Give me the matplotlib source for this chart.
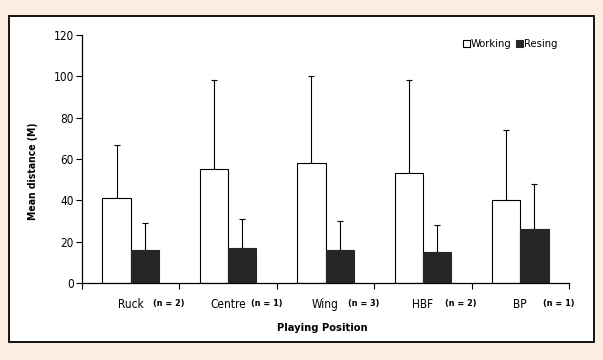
import matplotlib.pyplot as plt
from matplotlib.patches import Rectangle
from matplotlib.transforms import blended_transform_factory

positions = ['Ruck', 'Centre', 'Wing', 'HBF', 'BP']
n_players = ['(n = 2)', '(n = 1)', '(n = 3)', '(n = 2)', '(n = 1)']
working = [41, 55, 58, 53, 40]
working_sd = [26, 43, 42, 45, 34]
resting = [16, 17, 16, 15, 26]
resting_sd = [13, 14, 14, 13, 22]
yticks = [0, 20, 40, 60, 80, 100, 120]

plt.rcParams['font.family'] = ['DejaVu Sans']
plt.rcParams['font.stretch'] = 'condensed'

W, H = 603, 360
fig = plt.figure(figsize=(W / 100, H / 100), dpi=100)
fig.patch.set_facecolor('#fdeee4')

# white panel with black frame, behind the axes
fig.patches.append(Rectangle((9 / W, 1 - 342 / H), 585 / W, 326 / H,
                             transform=fig.transFigure, facecolor='white',
                             edgecolor='black', linewidth=1.3, zorder=-5))

ax = fig.add_axes([82 / W, 1 - 283 / H, (569 - 82) / W, (283 - 35) / H])
ax.set_facecolor('none')

bw = 0.29
x = [i + 0.5 for i in range(len(positions))]
xw = [c - bw / 2 for c in x]
xr = [c + bw / 2 for c in x]

ax.bar(xw, working, bw, color='white', edgecolor='black', linewidth=0.8, label='Working', zorder=2)
ax.bar(xr, resting, bw, color='#262626', edgecolor='#262626', linewidth=0.8, label='Resing', zorder=2)
ax.errorbar(xw, working, yerr=[[0] * 5, working_sd], fmt='none', ecolor='black',
            elinewidth=0.8, capsize=2.5, capthick=0.8, zorder=1)
ax.errorbar(xr, resting, yerr=[[0] * 5, resting_sd], fmt='none', ecolor='black',
            elinewidth=0.8, capsize=2.5, capthick=0.8, zorder=1)

ax.set_xlim(0, 5)
ax.set_ylim(0, 120)
ax.set_yticks(yticks)
ax.set_yticklabels([str(v) for v in yticks], fontsize=8.5)
ax.set_xticks(range(6))
ax.set_xticklabels([])
ax.tick_params(axis='both', direction='out', length=4, width=0.8, color='black')
ax.tick_params(axis='y', pad=2)
for s in ['top', 'right']:
    ax.spines[s].set_visible(False)
for s in ['left', 'bottom']:
    ax.spines[s].set_linewidth(0.9)

# category labels with n counts
tr = blended_transform_factory(ax.transData, ax.transAxes)
for c, name, n in zip(x, positions, n_players):
    ax.text(c, -0.085, name, transform=tr, ha='center', va='center', fontsize=8.5)
    ax.text(c + 0.23, -0.082, n, transform=tr, ha='left', va='center',
            fontsize=6.5, fontweight='bold')

ax.set_xlabel('Playing Position', fontsize=8, fontweight='bold')
ax.xaxis.set_label_coords(0.494, -0.16)
ax.set_ylabel('Mean distance (M)', fontsize=7.5, fontweight='bold')
ax.yaxis.set_label_coords(-0.09, 0.45)

leg = ax.legend(loc='upper right', bbox_to_anchor=(0.985, 1.0), ncol=2, frameon=False,
                fontsize=8, handlelength=0.6, handleheight=0.6, handletextpad=0.1,
                columnspacing=0.4, borderaxespad=0)

fig.savefig('out.png', dpi=100, facecolor=fig.get_facecolor())
